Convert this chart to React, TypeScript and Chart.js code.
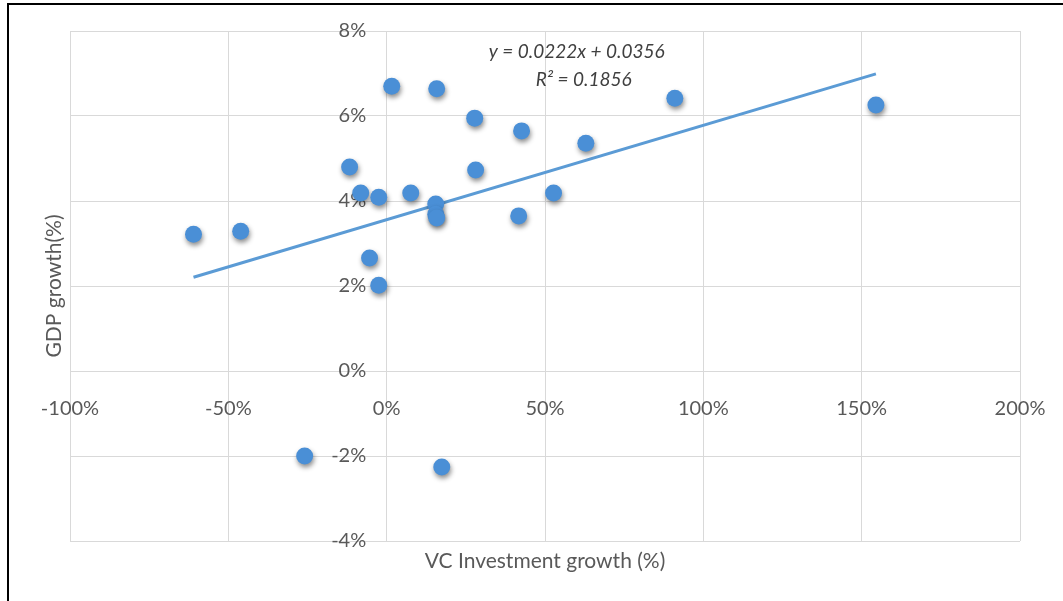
import React, { useEffect, useRef } from "react";
import { Chart, registerables } from "chart.js";

Chart.register(...registerables);

// VC investment growth (%) for each observation
const vcGrowth = [
  -61.0, -46.1, -25.9, -11.7, -8.2, -5.4, -2.5, -2.5, 1.6, 7.6, 15.5, 15.5,
  15.8, 15.8, 17.4, 27.8, 28.1, 41.7, 42.6, 52.7, 62.9, 91.0, 154.5,
];
// GDP growth (%) for each observation
const gdpGrowth = [
  3.22, 3.29, -2.0, 4.8, 4.19, 2.66, 4.09, 2.02, 6.7, 4.19, 3.93, 3.69,
  3.6, 6.64, -2.26, 5.95, 4.73, 3.65, 5.65, 4.19, 5.36, 6.42, 6.26,
];
// Linear trendline (decimal form): y = slope * x + intercept
const trendSlope = [0.0222];
const trendIntercept = [0.0356];
const trendLabels = ["y = 0.0222x + 0.0356", "R² = 0.1856"];

const xTicks = [-100, -50, 0, 50, 100, 150, 200];
const yTicks = [-4, -2, 0, 2, 4, 6, 8];
const xTitle = "VC Investment growth (%)";
const yTitle = "GDP growth(%)";

const FONT = "Lato, 'Open Sans', sans-serif";

export default function App() {
  const ref = useRef<HTMLCanvasElement | null>(null);

  useEffect(() => {
    const canvas = ref.current;
    if (!canvas) return;
    const points = vcGrowth.map((x, i) => ({ x, y: gdpGrowth[i] }));
    const xmin = Math.min(...vcGrowth);
    const xmax = Math.max(...vcGrowth);
    const trendY = (xp: number) =>
      (trendSlope[0] * (xp / 100) + trendIntercept[0]) * 100;
    const trend = [
      { x: xmin, y: trendY(xmin) },
      { x: xmax, y: trendY(xmax) },
    ];

    const shadowPlugin = {
      id: "shadow",
      beforeDatasetDraw(chart: any, args: any) {
        if (args.index === 0) {
          const ctx = chart.ctx;
          ctx.save();
          ctx.shadowColor = "rgba(0,0,0,0.45)";
          ctx.shadowBlur = 5;
          ctx.shadowOffsetX = 1;
          ctx.shadowOffsetY = 3;
        }
      },
      afterDatasetDraw(chart: any, args: any) {
        if (args.index === 0) chart.ctx.restore();
      },
    };

    const textPlugin = {
      id: "texts",
      afterDraw(chart: any) {
        const ctx = chart.ctx;
        const area = chart.chartArea;
        ctx.save();
        ctx.fillStyle = "#595959";
        ctx.font = `21px ${FONT}`;
        ctx.textAlign = "center";
        ctx.textBaseline = "middle";
        ctx.fillText(xTitle, (area.left + area.right) / 2, area.bottom + 20);
        ctx.save();
        ctx.translate(area.left - 16, (area.top + area.bottom) / 2);
        ctx.rotate(-Math.PI / 2);
        ctx.fillText(yTitle, 0, 0);
        ctx.restore();
        const xs = chart.scales.x;
        const ys = chart.scales.y;
        ctx.fillStyle = "#404040";
        ctx.font = `italic 19px ${FONT}`;
        ctx.fillText(trendLabels[0], xs.getPixelForValue(60), ys.getPixelForValue(7.5));
        ctx.fillText(trendLabels[1], xs.getPixelForValue(62.2), ys.getPixelForValue(6.85));
        ctx.restore();
      },
    };

    const chart = new Chart(canvas, {
      type: "scatter",
      data: {
        datasets: [
          {
            label: "GDP vs VC",
            data: points,
            backgroundColor: "#4a8fd6",
            borderColor: "#4a8fd6",
            borderWidth: 0,
            pointRadius: 8.5,
            pointHoverRadius: 8.5,
          },
          {
            type: "line",
            label: "Trend",
            data: trend,
            showLine: true,
            borderColor: "#5b9bd5",
            borderWidth: 3,
            pointRadius: 0,
            fill: false,
          } as any,
        ],
      },
      options: {
        animation: false,
        responsive: false,
        devicePixelRatio: 1,
        layout: { padding: { left: 70, top: 31, right: 43, bottom: 60 } },
        plugins: { legend: { display: false }, tooltip: { enabled: false } },
        scales: {
          x: {
            type: "linear",
            min: -100,
            max: 200,
            position: { y: 0 } as any,
            afterBuildTicks: (s: any) => {
              s.ticks = xTicks.map((v) => ({ value: v }));
            },
            afterFit: (s: any) => {
              s.paddingLeft = 0;
              s.paddingRight = 0;
              s.paddingTop = 0;
              s.paddingBottom = 0;
            },
            ticks: {
              callback: (v: any) => `${v}%`,
              color: "#595959",
              font: { family: FONT, size: 20 },
              padding: 26,
              maxRotation: 0,
            },
            grid: { color: "#d9d9d9", lineWidth: 1, drawTicks: false },
            border: { display: false },
          },
          y: {
            type: "linear",
            min: -4,
            max: 8,
            position: { x: 0 } as any,
            afterBuildTicks: (s: any) => {
              s.ticks = yTicks.map((v) => ({ value: v }));
            },
            afterFit: (s: any) => {
              s.paddingLeft = 0;
              s.paddingRight = 0;
              s.paddingTop = 0;
              s.paddingBottom = 0;
            },
            ticks: {
              // trailing spaces keep the labels clear of the centred axis
              callback: (v: any) => `${v}%    `,
              color: "#595959",
              font: { family: FONT, size: 20 },
              padding: 22,
            },
            grid: { color: "#d9d9d9", lineWidth: 1, drawTicks: false },
            border: { display: false },
          },
        },
      },
      plugins: [shadowPlugin, textPlugin],
    });
    return () => chart.destroy();
  }, []);

  return (
    <div
      style={{
        position: "fixed",
        left: 0,
        top: 0,
        width: 1063,
        height: 601,
        overflow: "hidden",
        background: "#fff",
      }}
    >
      <canvas
        ref={ref}
        width={1063}
        height={601}
        style={{ position: "absolute", left: 0, top: 0, width: 1063, height: 601 }}
      />
      <div
        style={{
          position: "absolute",
          left: 7,
          top: 3,
          width: 1200,
          height: 800,
          borderTop: "2px solid #000",
          borderLeft: "2px solid #000",
          pointerEvents: "none",
        }}
      />
    </div>
  );
}
